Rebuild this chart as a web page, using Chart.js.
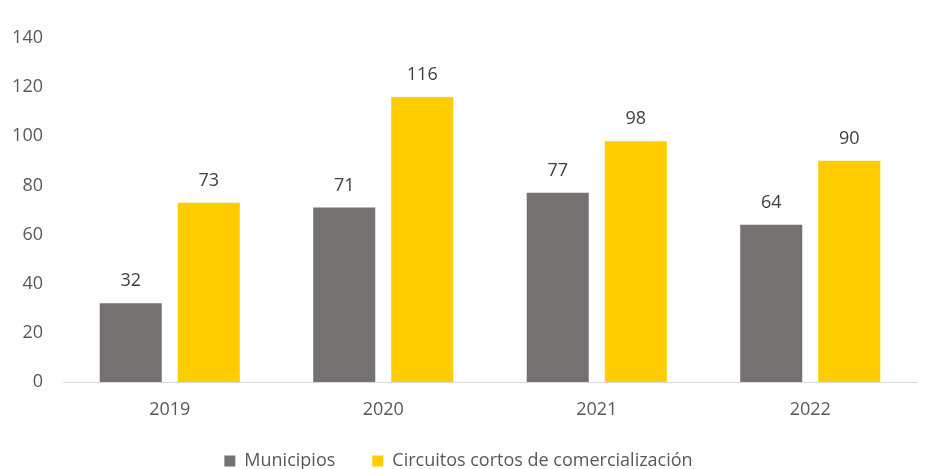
<!DOCTYPE html>
<html><head><meta charset="utf-8">
<script src="https://cdn.jsdelivr.net/npm/chart.js@4/dist/chart.umd.min.js"></script>
<style>html,body{margin:0;padding:0;background:#fff}#wrap{width:937px;height:469px}</style>
</head><body><div id="wrap"><canvas id="c" width="937" height="469"></canvas></div>
<script>
const categories = ["2019","2020","2021","2022"];
const municipios = [32,71,77,64];
const circuitos = [73,116,98,90];
const yTicks = [0,20,40,60,80,100,120,140];
const seriesNames = ["Municipios","Circuitos cortos de comercialización"];

const FONT = "'Open Sans', 'Liberation Sans', sans-serif";
const FS = 18;
const labelPlugin = {
  id:'vals',
  afterDatasetsDraw(chart){
    const ctx = chart.ctx;
    ctx.save();
    ctx.font = FS + "px " + FONT;
    ctx.fillStyle = "#404040";
    ctx.textAlign = "center";
    ctx.textBaseline = "alphabetic";
    chart.data.datasets.forEach((ds,i)=>{
      chart.getDatasetMeta(i).data.forEach((bar,j)=>{
        ctx.fillText(String(ds.data[j]), bar.x, bar.y - 17);
      });
    });
    ctx.restore();
  }
};
new Chart(document.getElementById('c'),{
  type:'bar',
  data:{labels:categories,datasets:[
    {label:seriesNames[0],data:municipios,backgroundColor:'#767171',categoryPercentage:0.731,barPercentage:0.795},
    {label:seriesNames[1],data:circuitos,backgroundColor:'#FFCC00',categoryPercentage:0.731,barPercentage:0.795}
  ]},
  options:{
    responsive:false,animation:false,
    layout:{padding:{left:0,right:20,top:38,bottom:-11}},
    plugins:{
      legend:{position:'bottom',labels:{font:{family:FONT,size:FS},color:'#595959',boxWidth:11,boxHeight:11,padding:37}},
      tooltip:{enabled:false}
    },
    scales:{
      x:{grid:{display:false},border:{color:'#d9d9d9',width:1},
         afterFit(ax){ax.height = 33;},
         ticks:{font:{family:FONT,size:FS},color:'#595959',padding:9}},
      y:{min:0,max:140,grid:{display:false},border:{display:false},
         afterFit(ax){ax.width = 63;},
         afterBuildTicks(ax){ax.ticks = yTicks.map(v=>({value:v}));},
         ticks:{font:{family:FONT,size:FS},color:'#595959',padding:12}}
    }
  },
  plugins:[labelPlugin]
});
</script></body></html>
